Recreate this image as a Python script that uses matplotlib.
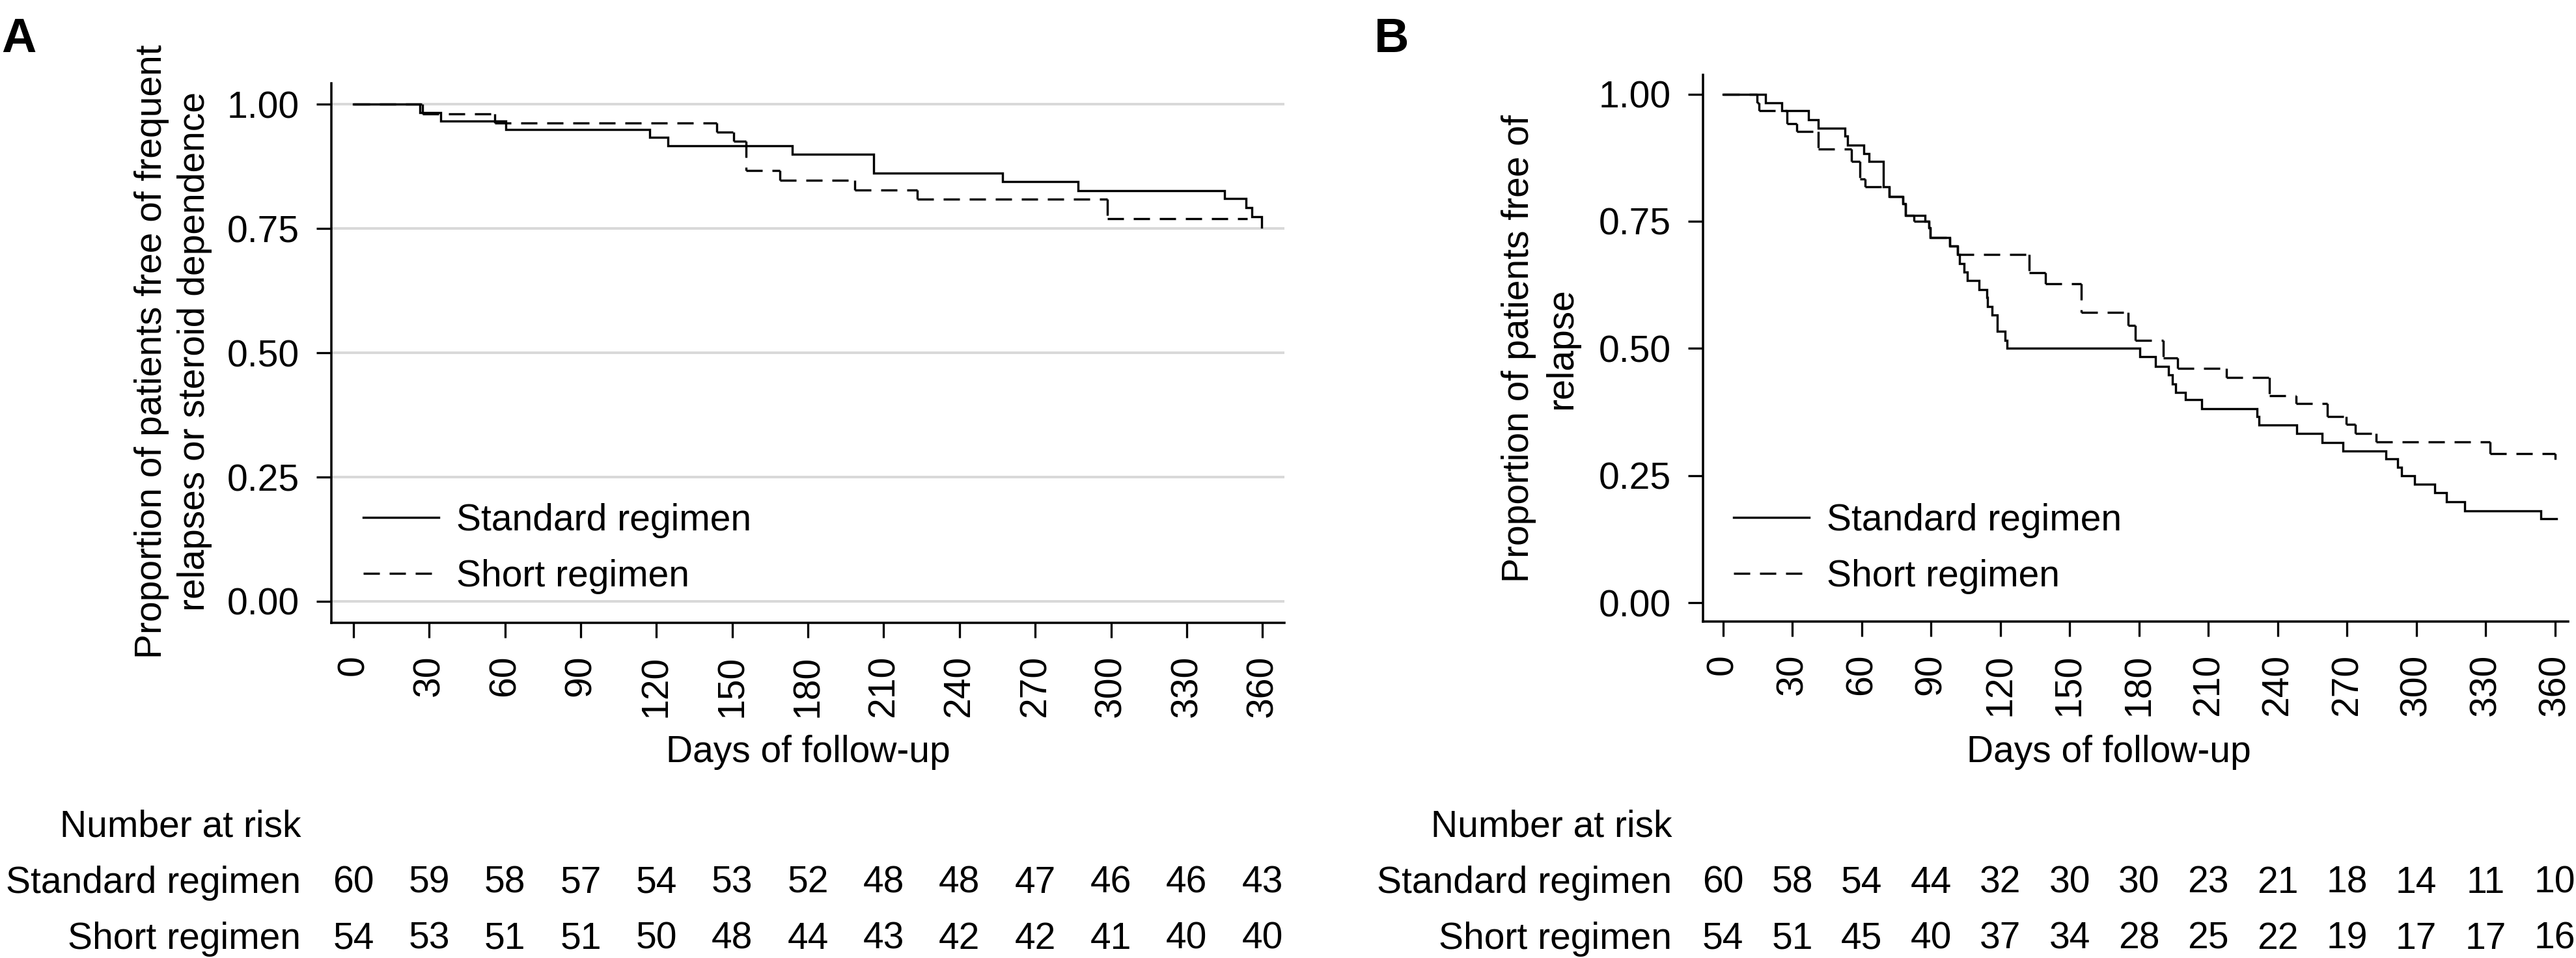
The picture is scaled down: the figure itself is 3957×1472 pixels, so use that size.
import matplotlib
matplotlib.use("Agg")
import matplotlib.pyplot as plt
import matplotlib.transforms as mtransforms
from matplotlib.collections import LineCollection
from matplotlib.lines import Line2D

# ---------------- data ----------------
days_ticks = [0, 30, 60, 90, 120, 150, 180, 210, 240, 270, 300, 330, 360]
y_ticks = [0.0, 0.25, 0.50, 0.75, 1.0]
series_labels = ["Standard regimen", "Short regimen"]

# Panel A: freedom from frequent relapses or steroid dependence
a_std_t = [0, 26.4, 34.6, 60.4, 117.2, 124.5, 173.9, 206.0, 257.1, 286.9, 344.9, 353.5, 355.9, 359.7]
a_std_s = [1.0, 0.9833, 0.9667, 0.95, 0.9333, 0.9167, 0.90, 0.862, 0.845, 0.827, 0.810, 0.792, 0.774, 0.753]
a_std_end = 359.7
a_sht_t = [0, 27.2, 56.0, 143.8, 150.5, 155.4, 169.0, 198.6, 223.3, 298.5]
a_sht_s = [1.0, 0.9815, 0.963, 0.944, 0.926, 0.867, 0.847, 0.828, 0.809, 0.770]
a_sht_end = 354.0

# Panel B: freedom from relapse
b_std_t = [0, 18.3, 25.5, 37.1, 41.3, 52.8, 54.0, 60.8, 63.1, 69.5, 71.8, 77.9, 78.9, 87.3,
           89.2, 89.7, 98.1, 101.4, 102.3, 104.2, 105.6, 110.8, 114.1, 114.5, 116.5, 118.8,
           122.1, 123.0, 180.3, 187.0, 192.7, 194.5, 195.9, 200.2, 207.0, 231.0, 231.9,
           248.1, 259.2, 268.1, 286.8, 292.0, 293.7, 299.2, 308.0, 313.1, 320.9, 354.0]
b_std_s = [1.0, 0.983, 0.967, 0.950, 0.933, 0.917, 0.900, 0.883, 0.867, 0.818, 0.798, 0.785,
           0.762, 0.750, 0.737, 0.718, 0.701, 0.684, 0.667, 0.650, 0.633, 0.616, 0.600, 0.582,
           0.565, 0.533, 0.516, 0.500, 0.484, 0.465, 0.448, 0.430, 0.413, 0.399, 0.381, 0.366,
           0.349, 0.333, 0.315, 0.298, 0.283, 0.266, 0.249, 0.233, 0.216, 0.199, 0.181, 0.165]
b_std_end = 360.7
b_sht_t = [0, 14.7, 15.7, 27.7, 31.9, 41.3, 55.6, 59.1, 61.5, 71.8, 77.9, 78.9, 82.6, 89.2,
           89.7, 98.1, 101.4, 132.4, 139.4, 155.1, 175.3, 178.5, 190.6, 196.7, 217.8, 236.4,
           247.9, 261.5, 269.7, 273.5, 282.6, 331.9, 360.0]
b_sht_s = [1.0, 0.983, 0.967, 0.942, 0.926, 0.892, 0.868, 0.833, 0.818, 0.798, 0.785, 0.762,
           0.750, 0.737, 0.718, 0.701, 0.684, 0.649, 0.627, 0.571, 0.545, 0.516, 0.481, 0.461,
           0.443, 0.407, 0.392, 0.366, 0.351, 0.333, 0.316, 0.293, 0.281]
b_sht_end = 360.0

a_risk_std = [60, 59, 58, 57, 54, 53, 52, 48, 48, 47, 46, 46, 43]
a_risk_sht = [54, 53, 51, 51, 50, 48, 44, 43, 42, 42, 41, 40, 40]
b_risk_std = [60, 58, 54, 44, 32, 30, 30, 23, 21, 18, 14, 11, 10]
b_risk_sht = [54, 51, 45, 40, 37, 34, 28, 25, 22, 19, 17, 17, 16]

a_ylabel = "Proportion of patients free of frequent\nrelapses or steroid dependence"
b_ylabel = "Proportion of patients free of\nrelapse"
xlabel = "Days of follow-up"

# ---------------- style ----------------
W, H, DPI = 3957, 1472, 100
plt.rcParams["font.family"] = ["Liberation Sans", "DejaVu Sans"]
plt.rcParams["lines.scale_dashes"] = False


def pt(p):
    return p * 72.0 / DPI


FS = pt(57)
LW = pt(3.4)
DASH = (0, (pt(25), pt(15)))

fig = plt.figure(figsize=(W / DPI, H / DPI), dpi=DPI)


def step_segments(t, s, t_end):
    segs = []
    for i in range(len(t)):
        t_next = t[i + 1] if i + 1 < len(t) else t_end
        segs.append([(t[i], s[i]), (t_next, s[i])])
        if i + 1 < len(t):
            segs.append([(t_next, s[i]), (t_next, s[i + 1])])
    return segs


def make_panel(rect_px, xlim, ylim, std, sht, risk_std, risk_sht, ylabel, ylab_xy,
               xlab_x, label_right, grid, leg_anchor):
    l, r, b, t = rect_px
    ax = fig.add_axes([l / W, 1 - b / H, (r - l) / W, (b - t) / H])
    ax.set_xlim(*xlim)
    ax.set_ylim(*ylim)
    for sp in ["top", "right"]:
        ax.spines[sp].set_visible(False)
    for sp in ["left", "bottom"]:
        ax.spines[sp].set_linewidth(pt(3.5))
    ax.set_xticks(days_ticks)
    ax.set_xticklabels([str(d) for d in days_ticks], rotation=90, fontsize=FS)
    ax.set_yticks(y_ticks)
    ax.set_yticklabels(["%.2f" % v for v in y_ticks], fontsize=FS)
    ax.tick_params(axis="both", direction="out", length=pt(23), width=pt(3.3))
    ax.tick_params(axis="y", pad=pt(26))
    ax.tick_params(axis="x", pad=pt(27))
    if grid:
        ax.set_axisbelow(True)
        ax.yaxis.grid(True, color="#d9d9d9", linewidth=pt(4))
    # standard: solid step
    st_t, st_s, st_end = std
    ax.plot(list(st_t) + [st_end], list(st_s) + [st_s[-1]], drawstyle="steps-post",
            color="black", linewidth=LW, solid_joinstyle="miter")
    # short: dashed step, pattern restarting at every vertex
    sh_t, sh_s, sh_end = sht
    lc = LineCollection(step_segments(sh_t, sh_s, sh_end), colors="black",
                        linewidths=LW, linestyles=[DASH])
    ax.add_collection(lc)
    handles = [Line2D([], [], color="black", linewidth=LW),
               Line2D([], [], color="black", linewidth=LW, linestyle=DASH)]
    ax.legend(handles, series_labels, loc="upper left", bbox_to_anchor=leg_anchor,
              frameon=False, fontsize=FS, handlelength=116 / 57, handletextpad=27 / 57,
              borderpad=0, borderaxespad=0, labelspacing=0.57)
    # axis titles
    fig.text(ylab_xy[0] / W, 1 - ylab_xy[1] / H, ylabel, rotation=90, ha="center",
             va="center", multialignment="center", fontsize=FS, linespacing=1.3)
    fig.text(xlab_x / W, 1 - 1156 / H, xlabel, ha="center", va="center", fontsize=FS)
    # number at risk table
    fig.text(label_right / W, 1 - 1285 / H, "Number at risk", ha="right",
             va="baseline", fontsize=FS)
    tr = mtransforms.blended_transform_factory(ax.transData, fig.transFigure)
    for row_y, name, vals in [(1372, series_labels[0], risk_std),
                              (1458, series_labels[1], risk_sht)]:
        fig.text(label_right / W, 1 - row_y / H, name, ha="right", va="baseline",
                 fontsize=FS)
        for d, v in zip(days_ticks, vals):
            ax.text(d, 1 - row_y / H, str(v), transform=tr, ha="center",
                    va="baseline", fontsize=FS)
    return ax


# Panel A
make_panel((509, 1973, 956.7, 127.6), (-8.77, 368.7), (-0.043, 1.043),
           (a_std_t, a_std_s, a_std_end), (a_sht_t, a_sht_s, a_sht_end),
           a_risk_std, a_risk_sht, a_ylabel, (266, 540), 1241, 462, True,
           (0.0335, 0.222))
fig.text(2 / W, 1 - 80 / H, "A", fontweight="bold", fontsize=pt(74), ha="left",
         va="baseline")

# Panel B
make_panel((2616, 3945, 955, 114.8), (-8.65, 365.7), (-0.037, 1.038),
           (b_std_t, b_std_s, b_std_end), (b_sht_t, b_sht_s, b_sht_end),
           b_risk_std, b_risk_sht, b_ylabel, (2366, 536), 3239, 2568, False,
           (0.0354, 0.217))
fig.text(2111 / W, 1 - 80 / H, "B", fontweight="bold", fontsize=pt(74), ha="left",
         va="baseline")

fig.savefig("out.png", dpi=DPI, facecolor="white")
